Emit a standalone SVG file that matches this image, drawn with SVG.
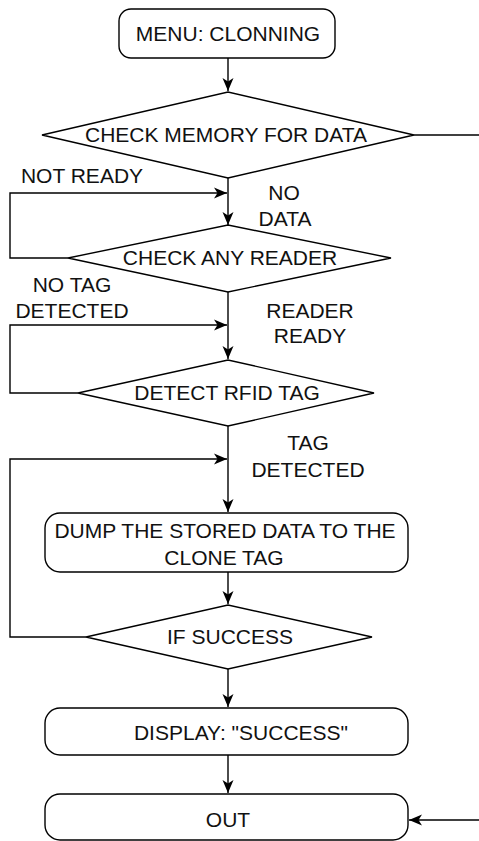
<svg xmlns="http://www.w3.org/2000/svg" width="479" height="841" viewBox="0 0 479 841">
<style>
.shape{fill:#fff;stroke:#000;stroke-width:1.4}
.conn{fill:none;stroke:#000;stroke-width:1.4}
text{font-family:"Liberation Sans",Arial,sans-serif;font-size:21px;fill:#111;text-anchor:middle}
</style>
<defs>
<marker id="arr" markerUnits="userSpaceOnUse" markerWidth="16" markerHeight="14" refX="13" refY="7" orient="auto">
<path d="M0,1.5 L13,7 L0,12.5 L3.5,7 z" fill="#000"/>
</marker>
</defs>
<g id="connectors">
<path class="conn" d="M228,58 V91" marker-end="url(#arr)"/>
<path class="conn" d="M414,135 H479"/>
<path class="conn" d="M228,178 V225" marker-end="url(#arr)"/>
<path class="conn" d="M68,258 H10 V193 H227" marker-end="url(#arr)"/>
<path class="conn" d="M228,292 V359" marker-end="url(#arr)"/>
<path class="conn" d="M78,393 H10 V325 H227" marker-end="url(#arr)"/>
<path class="conn" d="M228,426 V512" marker-end="url(#arr)"/>
<path class="conn" d="M86,637 H10 V459 H227" marker-end="url(#arr)"/>
<path class="conn" d="M228,572 V604" marker-end="url(#arr)"/>
<path class="conn" d="M228,669 V707" marker-end="url(#arr)"/>
<path class="conn" d="M228,755 V793" marker-end="url(#arr)"/>
<path class="conn" d="M479,820 H409" marker-end="url(#arr)"/>
</g>
<g id="labels">
<text x="82" y="183">NOT READY</text>
<text x="284" y="200">NO</text>
<text x="285" y="226">DATA</text>
<text x="72" y="292">NO TAG</text>
<text x="72" y="318">DETECTED</text>
<text x="310" y="318">READER</text>
<text x="310" y="343">READY</text>
<text x="308" y="450">TAG</text>
<text x="308" y="477">DETECTED</text>
</g>
<g id="menu">
<rect class="shape" x="119" y="9" width="216" height="49" rx="12"/>
<text x="228" y="41">MENU: CLONNING</text>
</g>
<g id="check-memory">
<polygon class="shape" points="42,135 228,92 414,135 228,178"/>
<text x="226" y="142">CHECK MEMORY FOR DATA</text>
</g>
<g id="check-reader">
<polygon class="shape" points="68,258 228,225 391,258 228,292"/>
<text x="230" y="265">CHECK ANY READER</text>
</g>
<g id="detect-tag">
<polygon class="shape" points="78,393 228,360 374,393 228,426"/>
<text x="227" y="400">DETECT RFID TAG</text>
</g>
<g id="dump">
<rect class="shape" x="45" y="513" width="363" height="59" rx="15"/>
<text x="225" y="538">DUMP THE STORED DATA TO THE</text>
<text x="224" y="565">CLONE TAG</text>
</g>
<g id="if-success">
<polygon class="shape" points="86,637 228,605 372,637 228,669"/>
<text x="230" y="644">IF SUCCESS</text>
</g>
<g id="display">
<rect class="shape" x="45" y="708" width="363" height="47" rx="15"/>
<text x="241" y="740">DISPLAY: "SUCCESS"</text>
</g>
<g id="out">
<rect class="shape" x="45" y="794" width="363" height="46" rx="15"/>
<text x="228" y="827">OUT</text>
</g>
</svg>
